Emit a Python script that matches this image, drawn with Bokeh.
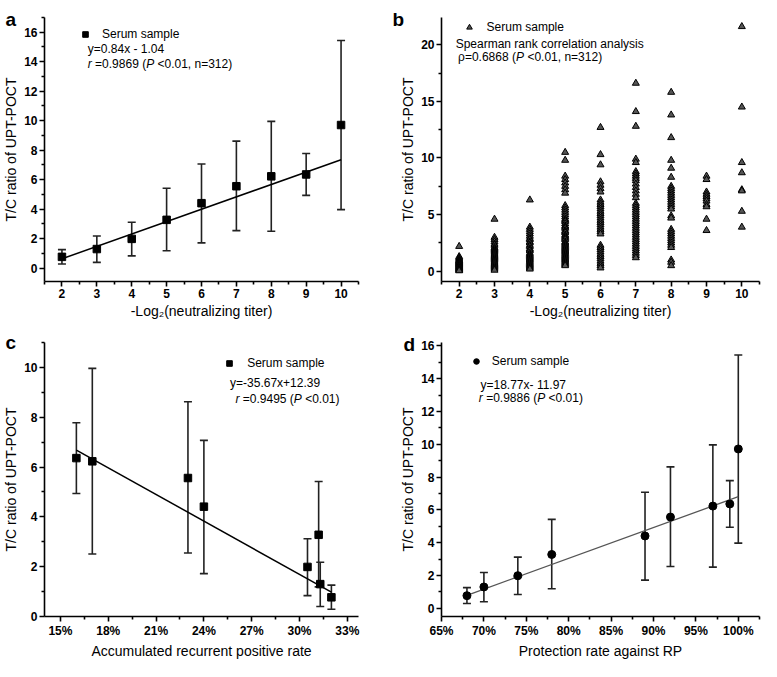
from bokeh.plotting import figure
from bokeh.models import (ColumnDataSource, Whisker, TeeHead, Label, Legend, LegendItem,
                          FixedTicker, Range1d, PrintfTickFormatter, Title)
from bokeh.layouts import column, row
from bokeh.embed import file_html
from bokeh.resources import INLINE

FONT = "Liberation Sans"

# ---------------- data ----------------
titer = [2, 3, 4, 5, 6, 7, 8, 9, 10]
tc_mean = [0.77, 1.30, 1.99, 3.28, 4.41, 5.56, 6.23, 6.36, 9.71]
tc_upper = [1.26, 2.18, 3.12, 5.42, 7.07, 8.62, 9.96, 7.78, 15.44]
tc_lower = [0.29, 0.40, 0.84, 1.19, 1.72, 2.55, 2.51, 4.94, 3.97]
fit_a_slope, fit_a_icpt = 0.84, -1.04

b_t2 = [2.2, 1.3, 1.2, 1.1, 1.0, 0.95, 0.9, 0.85, 0.8, 0.75, 0.7, 0.65, 0.6, 0.55,
        0.5, 0.45, 0.4, 0.35, 0.3, 0.25, 0.2, 0.15, 0.1, 0.05]
b_t3 = [4.6, 3.0, 2.8, 2.6, 2.4, 2.3, 2.1, 2.0, 1.9, 1.8, 1.7, 1.6, 1.5, 1.4, 1.3,
        1.2, 1.1, 1.0, 0.9, 0.8, 0.7, 0.6, 0.5, 0.4, 0.3, 0.2, 0.1]
b_t4 = [6.3, 3.9, 3.7, 3.5, 3.3, 3.1, 2.9, 2.8, 2.6, 2.5, 2.3, 2.2, 2.0, 1.9, 1.8,
        1.6, 1.5, 1.4, 1.3, 1.2, 1.1, 1.0, 0.9, 0.8, 0.7, 0.6, 0.5, 0.4, 0.3, 0.2]
b_t5 = [10.5, 9.8, 8.4, 8.1, 7.8, 7.5, 7.2, 6.9, 5.8, 5.6, 5.4, 5.2, 5.0, 4.8, 4.6,
        4.5, 4.4, 4.2, 4.0, 3.9, 3.8, 3.6, 3.5, 3.4, 3.2, 3.1, 3.0, 2.9, 2.8, 2.6,
        2.5, 2.4, 2.3, 2.2, 2.1, 2.0, 1.9, 1.8, 1.7, 1.6, 1.5, 1.4, 1.3, 1.2, 1.1,
        1.0, 0.9, 0.8, 0.7, 0.6, 0.5]
b_t6 = [12.7, 10.3, 9.4, 7.9, 7.6, 7.3, 7.0, 6.3, 6.1, 5.9, 5.7, 5.5, 5.3, 5.1, 4.9,
        4.7, 4.5, 4.3, 4.1, 3.9, 3.7, 3.5, 3.3, 2.3, 2.1, 1.9, 1.7, 1.5, 1.3, 1.1,
        0.9, 0.7, 0.5, 0.3]
b_t7 = [16.6, 14.1, 12.8, 9.9, 9.6, 8.8, 8.6, 8.4, 8.2, 8.0, 7.7, 7.4, 7.1, 6.8, 6.5,
        6.0, 5.8, 5.6, 5.4, 5.2, 5.0, 4.8, 4.6, 4.4, 4.2, 4.0, 3.8, 3.6, 3.4, 3.2,
        3.0, 2.8, 2.6, 2.4, 2.2, 2.0, 1.8, 1.6, 1.4, 1.2]
b_t8 = [15.8, 13.8, 11.8, 9.8, 9.1, 8.3, 7.5, 7.3, 7.1, 6.9, 6.7, 6.5, 6.3, 6.1, 5.9,
        5.7, 5.5, 4.9, 4.7, 3.7, 3.5, 3.3, 3.1, 2.9, 2.7, 2.5, 2.3, 2.1, 1.0, 0.8, 0.5]
b_t9 = [8.4, 8.1, 7.0, 6.8, 6.6, 6.4, 6.2, 5.9, 5.7, 4.6, 3.6]
b_t10 = [21.6, 14.5, 9.6, 8.7, 7.2, 7.1, 5.3, 3.9]
b_groups = [(2, b_t2), (3, b_t3), (4, b_t4), (5, b_t5), (6, b_t6), (7, b_t7),
            (8, b_t8), (9, b_t9), (10, b_t10)]

c_rate = [16.0, 17.0, 23.0, 24.0, 30.5, 31.2, 31.3, 32.0]
c_mean = [6.36, 6.23, 5.56, 4.41, 1.99, 3.28, 1.30, 0.77]
c_upper = [7.78, 9.96, 8.62, 7.07, 3.12, 5.42, 2.18, 1.26]
c_lower = [4.94, 2.51, 2.55, 1.72, 0.84, 1.19, 0.40, 0.29]
fit_c_slope, fit_c_icpt = -35.67, 12.39

d_rate = [68, 70, 74, 78, 89, 92, 97, 99, 100]
d_mean = tc_mean
d_upper = tc_upper
d_lower = tc_lower
fit_d_slope, fit_d_icpt = 18.77, -11.97

# ---------------- helpers ----------------
CW = {' ': 278, '.': 278, ',': 278, '=': 584, '<': 584, '+': 584, '-': 333, '(': 333,
      ')': 333, 'r': 333, 'x': 500, 'y': 500, 'n': 556, 'P': 667, 'ρ': 576}


def tw(s, size):
    return sum(CW.get(ch, 556) for ch in s) * size / 1000.0


def runs(p, x, y, parts, size=12):
    off = 0.0
    for txt, ital in parts:
        lead = len(txt) - len(txt.lstrip(" "))
        off += tw(" " * lead, size)
        core = txt.strip(" ")
        p.add_layout(Label(x=x, y=y, x_offset=off, text=core, text_font=FONT,
                           text_font_size=f"{size}px",
                           text_font_style="italic" if ital else "normal",
                           text_baseline="middle", text_align="left", text_color="black"))
        off += tw(txt.lstrip(" "), size)


def make_fig(w, h, bl, br, bt, bb, xr, yr, xt, xm, yt, ym, xlabel, pct=False):
    p = figure(width=w, height=h, output_backend="svg", toolbar_location=None,
               x_range=Range1d(*xr), y_range=Range1d(*yr),
               min_border_left=bl, min_border_right=br, min_border_top=bt,
               min_border_bottom=bb, background_fill_color="white",
               border_fill_color="white", outline_line_color=None)
    p.grid.visible = False
    for ax in (p.xaxis[0], p.yaxis[0]):
        ax.axis_line_width = 1.6
        ax.axis_line_color = "black"
        ax.major_tick_line_width = 1.6
        ax.minor_tick_line_width = 1.6
        ax.major_tick_out = 5
        ax.major_tick_in = 0
        ax.minor_tick_out = 3
        ax.minor_tick_in = 0
        ax.major_label_text_font = FONT
        ax.major_label_text_font_size = "12px"
        ax.major_label_text_font_style = "bold"
        ax.major_label_text_color = "black"
        ax.axis_label_text_font = FONT
        ax.axis_label_text_font_size = "14px"
        ax.axis_label_text_font_style = "normal"
        ax.axis_label_text_color = "black"
        ax.major_label_standoff = 2
        ax.axis_label_standoff = 2
    p.xaxis.ticker = FixedTicker(ticks=xt, minor_ticks=xm)
    p.yaxis.ticker = FixedTicker(ticks=yt, minor_ticks=ym)
    p.xaxis.axis_label = xlabel
    p.yaxis.axis_label = "T/C ratio of UPT-POCT"
    if pct:
        p.xaxis.formatter = PrintfTickFormatter(format="%d%%")
    return p


def panel_letter(p, txt, offset, below_px):
    # title in the above panel, shifted down so its baseline sits below the frame top
    p.add_layout(Title(text=txt, align="left", offset=offset, vertical_align="bottom",
                       standoff=-2 * (below_px + 2), text_font=FONT, text_font_size="19px",
                       text_font_style="bold", text_color="black"), "above")


def legend(p, r, label, gx, gy, xr, yr, fw, fh, standoff):
    sx = (gx - xr[0]) / (xr[1] - xr[0]) * fw
    sy = (gy - yr[0]) / (yr[1] - yr[0]) * fh
    lg = Legend(items=[LegendItem(label=label, renderers=[r])],
                location=(sx - 7, sy - 7), padding=0, margin=0, spacing=0,
                glyph_width=14, glyph_height=14, label_height=14, label_width=10,
                label_standoff=standoff, border_line_color=None,
                background_fill_alpha=0, label_text_font=FONT,
                label_text_font_size="12px", label_text_color="black",
                label_text_baseline="middle")
    p.add_layout(lg)


def errbars(p, xs, lo, hi, color="#222222"):
    src = ColumnDataSource(dict(x=xs, lo=lo, hi=hi))
    p.add_layout(Whisker(source=src, base="x", lower="lo", upper="hi", dimension="height",
                         line_color=color, line_width=1.6,
                         upper_head=TeeHead(size=8, line_color=color, line_width=1.6),
                         lower_head=TeeHead(size=8, line_color=color, line_width=1.6)))


XLOG = "-Log\u2082(neutralizing titer)"
half = lambda a, b, s: [a + i * s for i in range(int(round((b - a) / s)) + 1)]

LW, RW = 378, 383
TH, BH = 322, 339
T_TOP, T_BOT = 17, 41

# ---------------- panel a ----------------
xra, yra = (1.5, 10.5), (-0.9, 17.0)
pa = make_fig(LW, TH, 40, 20, T_TOP, T_BOT, xra, yra, titer, half(1.5, 10.5, 1.0),
              list(range(0, 17, 2)), list(range(1, 18, 2)), XLOG)
fwa, fha = LW - 60, TH - T_TOP - T_BOT
errbars(pa, titer, tc_lower, tc_upper)
pa.line([titer[0], titer[-1]],
        [fit_a_slope * titer[0] + fit_a_icpt, fit_a_slope * titer[-1] + fit_a_icpt],
        line_color="black", line_width=1.5)
ra = pa.scatter(titer, tc_mean, marker="square", size=7.5, fill_color="black",
                line_color="black")
legend(pa, ra, "Serum sample", 2.66, 15.87, xra, yra, fwa, fha, 10)
runs(pa, 2.74, 14.87, [("y=0.84x - 1.04", False)])
runs(pa, 2.74, 13.86, [("r", True), (" =0.9869 (", False), ("P", True),
                       (" <0.01, n=312)", False)])
panel_letter(pa, "a", -39, 10)

# ---------------- panel b ----------------
xrb, yrb = (1.5, 10.5), (-0.9, 22.4)
pb = make_fig(RW, TH, 63, 2, T_TOP, T_BOT, xrb, yrb, titer, half(1.5, 10.5, 1.0),
              [0, 5, 10, 15, 20], [2.5, 7.5, 12.5, 17.5, 22.5], XLOG)
fwb, fhb = RW - 65, TH - T_TOP - T_BOT
bx, by = [], []
for t, vals in b_groups:
    bx += [t] * len(vals)
    by += vals
rb = pb.scatter(bx, by, marker="triangle", size=7, fill_color="#555555",
                line_color="black", line_width=1)
legend(pb, rb, "Serum sample", 2.28, 21.5, xrb, yrb, fwb, fhb, 11)
runs(pb, 1.9, 20.1, [("Spearman rank correlation analysis", False)])
runs(pb, 1.97, 18.9, [("\u03c1=0.6868 (", False), ("P", True),
                      (" <0.01, n=312)", False)])
panel_letter(pb, "b", -49, 10)

# ---------------- panel c ----------------
C_TOP, B_BOT = 20, 39
xrc, yrc = (14.0, 33.7), (0.0, 11.0)
pc = make_fig(LW, BH, 40, 20, C_TOP, B_BOT, xrc, yrc, [15, 18, 21, 24, 27, 30, 33],
              [16.5, 19.5, 22.5, 25.5, 28.5, 31.5], list(range(0, 11, 2)),
              list(range(1, 12, 2)), "Accumulated recurrent positive rate", pct=True)
fwc, fhc = LW - 60, BH - C_TOP - B_BOT
errbars(pc, c_rate, c_lower, c_upper)
c0, c1 = min(c_rate), max(c_rate)
pc.line([c0, c1], [fit_c_slope * c0 / 100 + fit_c_icpt, fit_c_slope * c1 / 100 + fit_c_icpt],
        line_color="black", line_width=1.5)
rc = pc.scatter(c_rate, c_mean, marker="square", size=7.5, fill_color="black",
                line_color="black")
legend(pc, rc, "Serum sample", 25.47, 9.93, xrc, yrc, fwc, fhc, 11)
runs(pc, 25.64, 9.37, [("y=-35.67x+12.39", False)])
runs(pc, 25.98, 8.73, [("r", True), (" =0.9495 (", False), ("P", True), (" <0.01)", False)])
panel_letter(pc, "c", -39, 8)

# ---------------- panel d ----------------
D_TOP = 18
xrd, yrd = (65.0, 102.5), (-0.5, 16.2)
pd_ = make_fig(RW, BH, 63, 2, D_TOP, B_BOT, xrd, yrd, list(range(65, 101, 5)),
               half(67.5, 102.5, 5.0), list(range(0, 17, 2)), list(range(1, 17, 2)),
               "Protection rate against RP", pct=True)
fwd, fhd = RW - 65, BH - D_TOP - B_BOT
errbars(pd_, d_rate, d_lower, d_upper)
d0, d1 = min(d_rate), max(d_rate)
pd_.line([d0, d1], [fit_d_slope * d0 / 100 + fit_d_icpt, fit_d_slope * d1 / 100 + fit_d_icpt],
         line_color="#555555", line_width=1.3)
rd = pd_.scatter(d_rate, d_mean, marker="circle", size=8, fill_color="black",
                 line_color="black")
legend(pd_, rd, "Serum sample", 69.1, 14.6, xrd, yrd, fwd, fhd, 9)
runs(pd_, 69.6, 13.64, [("y=18.77x- 11.97", False)])
runs(pd_, 69.4, 12.83, [("r", True), (" =0.9886 (", False), ("P", True), (" <0.01)", False)])
panel_letter(pd_, "d", -38, 10)

layout = column(row(pa, pb), row(pc, pd_))
open("out.html", "w").write(file_html(layout, INLINE))
